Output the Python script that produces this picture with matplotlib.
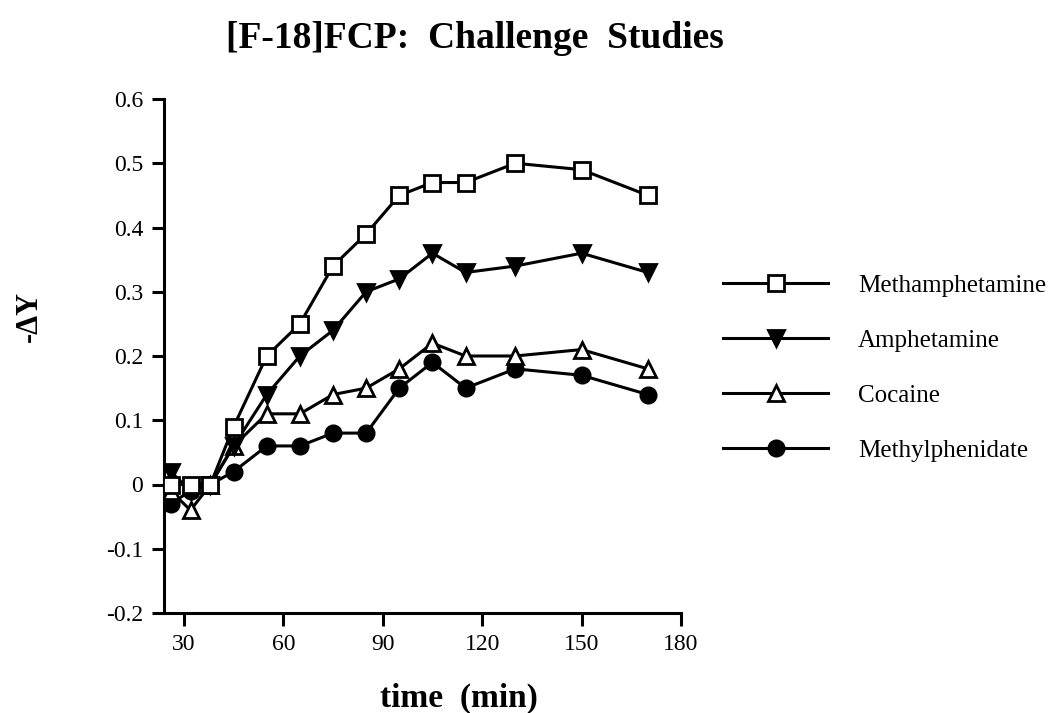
import matplotlib
matplotlib.use("Agg")
import matplotlib.pyplot as plt

plt.rcParams['font.family'] = ['Liberation Serif', 'DejaVu Serif']

time_min = [26, 32, 38, 45, 55, 65, 75, 85, 95, 105, 115, 130, 150, 170]
methamphetamine = [0.0, 0.0, 0.0, 0.09, 0.20, 0.25, 0.34, 0.39, 0.45, 0.47, 0.47, 0.50, 0.49, 0.45]
amphetamine = [0.02, -0.01, 0.0, 0.06, 0.14, 0.20, 0.24, 0.30, 0.32, 0.36, 0.33, 0.34, 0.36, 0.33]
cocaine = [-0.01, -0.04, 0.0, 0.06, 0.11, 0.11, 0.14, 0.15, 0.18, 0.22, 0.20, 0.20, 0.21, 0.18]
methylphenidate = [-0.03, -0.01, 0.0, 0.02, 0.06, 0.06, 0.08, 0.08, 0.15, 0.19, 0.15, 0.18, 0.17, 0.14]

labels = ["Methamphetamine", "Amphetamine", "Cocaine", "Methylphenidate"]
xticks = [30, 60, 90, 120, 150, 180]
yticks = [-0.2, -0.1, 0, 0.1, 0.2, 0.3, 0.4, 0.5, 0.6]
ytick_labels = ["-0.2", "-0.1", "0", "0.1", "0.2", "0.3", "0.4", "0.5", "0.6"]

W, H = 1052, 713
fig = plt.figure(figsize=(W / 100, H / 100), dpi=100)
ax_l, ax_r, ax_t, ax_b = 164, 681, 99, 613
ax = fig.add_axes([ax_l / W, 1 - ax_b / H, (ax_r - ax_l) / W, (ax_b - ax_t) / H])

lw = 2.2
ms = 11
mew = 2.0
ax.plot(time_min, methylphenidate, color='black', lw=lw, marker='o', ms=ms,
        mfc='black', mec='black', mew=mew, label=labels[3], zorder=3)
ax.plot(time_min, cocaine, color='black', lw=lw, marker='^', ms=ms + 1,
        mfc='white', mec='black', mew=mew, label=labels[2], zorder=4)
ax.plot(time_min, amphetamine, color='black', lw=lw, marker='v', ms=ms + 1,
        mfc='black', mec='black', mew=mew, label=labels[1], zorder=5)
ax.plot(time_min, methamphetamine, color='black', lw=lw, marker='s', ms=ms,
        mfc='white', mec='black', mew=mew, label=labels[0], zorder=6)

ax.set_xlim(24, 180)
ax.set_ylim(-0.2, 0.6)
ax.set_xticks(xticks)
ax.set_xticklabels([str(v) for v in xticks])
ax.set_yticks(yticks)
ax.set_yticklabels(ytick_labels)

for s in ['top', 'right']:
    ax.spines[s].set_visible(False)
for s in ['left', 'bottom']:
    ax.spines[s].set_linewidth(2.2)
ax.tick_params(axis='both', direction='out', length=9, width=2.2, labelsize=17, pad=6)

ax.set_xlabel("time  (min)", fontsize=24, fontweight='bold')
ax.xaxis.set_label_coords((459 - ax_l) / (ax_r - ax_l), -0.135)
ax.set_ylabel("-ΔY", fontsize=22, fontweight='bold')
ax.yaxis.set_label_coords((44 - ax_l) / (ax_r - ax_l), (ax_b - 316) / (ax_b - ax_t))

fig.text(475 / W, 1 - 38 / H, "[F-18]FCP:  Challenge  Studies", fontsize=27, fontweight='bold',
         ha='center', va='center')

handles, labs = ax.get_legend_handles_labels()
order = [3, 2, 1, 0]
leg = fig.legend([handles[i] for i in order], [labs[i] for i in order],
                 loc='upper left', bbox_to_anchor=(723 / W, 1 - 274 / H), frameon=False,
                 fontsize=18, handlelength=4.2, handletextpad=1.2, labelspacing=1.3,
                 borderpad=0, borderaxespad=0)

fig.savefig("out.png", dpi=100)
